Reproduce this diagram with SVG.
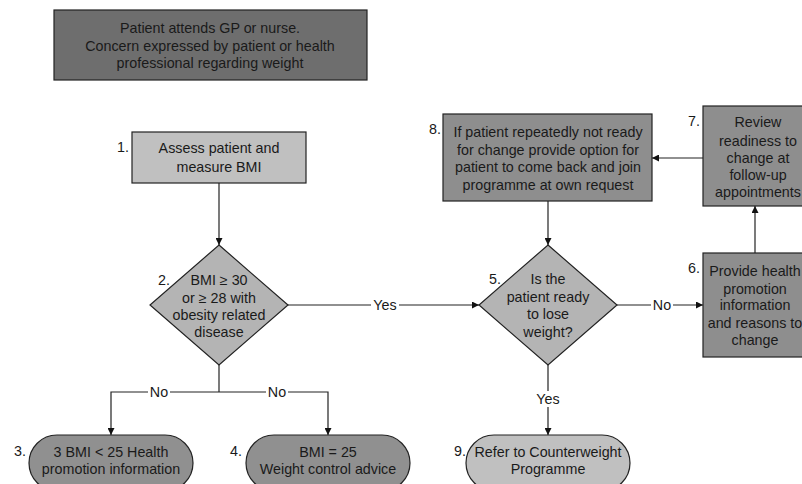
<svg xmlns="http://www.w3.org/2000/svg" width="802" height="484" viewBox="0 0 802 484">
<style>
text{font-family:"Liberation Sans",Arial,sans-serif;font-size:14.3px;fill:#1a1a1a;text-anchor:middle}
.num{text-anchor:end}
.box{stroke:#222;stroke-width:1.2}
.dark{fill:#6e6e6e}
.light{fill:#c0c0c0}
.mid{fill:#8e8e8e}
.dia{fill:#b4b4b4}
.term{fill:#909090}
.ln{stroke:#222;stroke-width:1.2;fill:none}
.lbl{fill:#fff}
</style>
<defs>
<marker id="ah" viewBox="0 0 10 10" refX="10" refY="5" markerWidth="7" markerHeight="7" markerUnits="userSpaceOnUse" orient="auto">
<path d="M0,0 L10,5 L0,10 z" fill="#111"/>
</marker>
</defs>
<g id="connectors">
<line class="ln" x1="219" y1="183" x2="219" y2="245" marker-end="url(#ah)"/>
<line class="ln" x1="287" y1="305" x2="479" y2="305" marker-end="url(#ah)"/>
<line class="ln" x1="617" y1="305" x2="703" y2="305" marker-end="url(#ah)"/>
<line class="ln" x1="755" y1="253" x2="755" y2="206" marker-end="url(#ah)"/>
<line class="ln" x1="703" y1="158" x2="652" y2="158" marker-end="url(#ah)"/>
<line class="ln" x1="548" y1="201" x2="548" y2="245" marker-end="url(#ah)"/>
<line class="ln" x1="548" y1="365" x2="548" y2="435" marker-end="url(#ah)"/>
<line class="ln" x1="219" y1="365" x2="219" y2="392"/>
<polyline class="ln" points="219,392 111,392 111,435" marker-end="url(#ah)"/>
<polyline class="ln" points="219,392 328,392 328,435" marker-end="url(#ah)"/>
<rect class="lbl" x="371" y="297" width="28" height="16"/>
<text x="385" y="310">Yes</text>
<rect class="lbl" x="651" y="297" width="22" height="16"/>
<text x="662" y="310">No</text>
<rect class="lbl" x="148" y="384" width="22" height="16"/>
<text x="159" y="397">No</text>
<rect class="lbl" x="266" y="384" width="22" height="16"/>
<text x="277" y="397">No</text>
<rect class="lbl" x="534" y="391" width="28" height="16"/>
<text x="548" y="404">Yes</text>
</g>
<g id="start">
<rect class="box dark" x="54" y="10" width="313" height="70"/>
<text x="210" y="33">Patient attends GP or nurse.</text>
<text x="210" y="51">Concern expressed by patient or health</text>
<text x="210" y="68">professional regarding weight</text>
</g>
<g id="n1">
<rect class="box light" x="132" y="132" width="174" height="51"/>
<text class="num" x="129" y="152">1.</text>
<text x="219" y="153">Assess patient and</text>
<text x="219" y="172">measure BMI</text>
</g>
<g id="n2">
<polygon class="box dia" points="219,245 288,305 219,365 150,305"/>
<text class="num" x="170" y="285">2.</text>
<text x="219" y="285">BMI ≥ 30</text>
<text x="219" y="303">or ≥ 28 with</text>
<text x="219" y="320">obesity related</text>
<text x="219" y="337">disease</text>
</g>
<g id="n3">
<rect class="box term" x="29" y="435" width="164" height="56" rx="28" ry="28"/>
<text class="num" x="26" y="456">3.</text>
<text x="111" y="457">3 BMI &lt; 25 Health</text>
<text x="111" y="474">promotion information</text>
</g>
<g id="n4">
<rect class="box term" x="246" y="435" width="164" height="56" rx="28" ry="28"/>
<text class="num" x="242" y="456">4.</text>
<text x="328" y="457">BMI = 25</text>
<text x="328" y="474">Weight control advice</text>
</g>
<g id="n5">
<polygon class="box dia" points="548,245 617,305 548,365 479,305"/>
<text class="num" x="501" y="284">5.</text>
<text x="548" y="284">Is the</text>
<text x="548" y="302">patient ready</text>
<text x="548" y="319">to lose</text>
<text x="548" y="337">weight?</text>
</g>
<g id="n6">
<rect class="box mid" x="703" y="253" width="110" height="104"/>
<text class="num" x="700" y="273">6.</text>
<text x="755" y="276">Provide health</text>
<text x="755" y="294">promotion</text>
<text x="755" y="310">information</text>
<text x="755" y="328">and reasons to</text>
<text x="755" y="345">change</text>
</g>
<g id="n7">
<rect class="box mid" x="703" y="106" width="110" height="100"/>
<text class="num" x="700" y="126">7.</text>
<text x="758" y="127">Review</text>
<text x="758" y="146">readiness to</text>
<text x="758" y="163">change at</text>
<text x="758" y="180">follow-up</text>
<text x="758" y="197">appointments</text>
</g>
<g id="n8">
<rect class="box mid" x="443" y="114" width="209" height="87"/>
<text class="num" x="441" y="134">8.</text>
<text x="548" y="137">If patient repeatedly not ready</text>
<text x="548" y="155">for change provide option for</text>
<text x="548" y="172">patient to come back and join</text>
<text x="548" y="190">programme at own request</text>
</g>
<g id="n9">
<rect class="box light" x="466" y="435" width="164" height="56" rx="28" ry="28"/>
<text class="num" x="466" y="456">9.</text>
<text x="548" y="457">Refer to Counterweight</text>
<text x="548" y="474">Programme</text>
</g>
</svg>
